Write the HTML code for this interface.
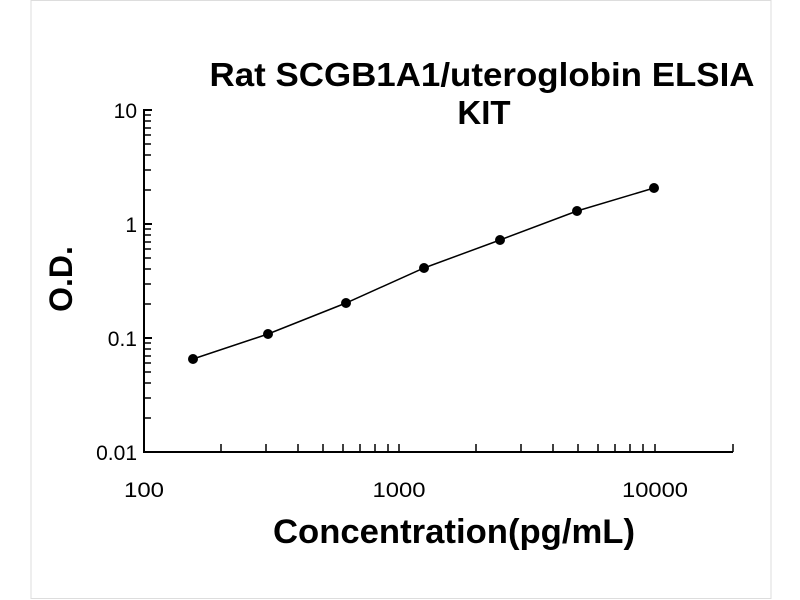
<!DOCTYPE html>
<html><head><meta charset="utf-8"><style>body{margin:0;background:#fff}svg{display:block}</style></head>
<body>
<svg width="800" height="600" xmlns="http://www.w3.org/2000/svg" font-family="Liberation Sans, sans-serif">
<rect x="31" y="0.5" width="740" height="598" fill="#fff" stroke="#ddd" stroke-width="1"/>
<text x="482" y="86" font-size="33" font-weight="bold" text-anchor="middle" textLength="545" lengthAdjust="spacingAndGlyphs">Rat SCGB1A1/uteroglobin ELSIA</text>
<text x="484" y="124" font-size="33" font-weight="bold" text-anchor="middle">KIT</text>
<g stroke="#000" stroke-width="2" fill="none">
<path d="M144,109 V452 H733"/>
<path d="M144,110h8 M144,224h8 M144,338h8"/>
</g>
<g stroke="#000" stroke-width="1.5" fill="none">
<path d="M144,418h7M144,398h7M144,383h7M144,372h7M144,363h7M144,356h7M144,349h7M144,343h7
M144,304h7M144,284h7M144,269h7M144,258h7M144,249h7M144,242h7M144,235h7M144,229h7
M144,190h7M144,170h7M144,155h7M144,144h7M144,135h7M144,128h7M144,121h7M144,115h7"/>
<path d="M221,452v-8M266,452v-8M298,452v-8M323,452v-8M343,452v-8M360,452v-8M375,452v-8M388,452v-8M399,452v-8
M476,452v-8M521,452v-8M553,452v-8M578,452v-8M598,452v-8M615,452v-8M630,452v-8M643,452v-8M655,452v-8M733,452v-8"/>
</g>
<g font-size="21" text-anchor="end">
<text x="137" y="118">10</text>
<text x="137" y="232">1</text>
<text x="137" y="346">0.1</text>
<text x="137" y="460">0.01</text>
</g>
<g font-size="21" text-anchor="middle">
<text x="144" y="497" textLength="40" lengthAdjust="spacingAndGlyphs">100</text>
<text x="399" y="497" textLength="53" lengthAdjust="spacingAndGlyphs">1000</text>
<text x="655" y="497" textLength="66" lengthAdjust="spacingAndGlyphs">10000</text>
</g>
<text x="454" y="543" font-size="34" font-weight="bold" text-anchor="middle" textLength="362" lengthAdjust="spacingAndGlyphs">Concentration(pg/mL)</text>
<text transform="translate(72,279) rotate(-90)" font-size="32" font-weight="bold" text-anchor="middle">O.D.</text>
<polyline fill="none" stroke="#000" stroke-width="1.5" points="193,359 268,334 346,303 424,268 500,240 577,211 654,188"/>
<g fill="#000">
<circle cx="193" cy="359" r="5"/><circle cx="268" cy="334" r="5"/><circle cx="346" cy="303" r="5"/><circle cx="424" cy="268" r="5"/><circle cx="500" cy="240" r="5"/><circle cx="577" cy="211" r="5"/><circle cx="654" cy="188" r="5"/>
</g>
</svg>
</body></html>
